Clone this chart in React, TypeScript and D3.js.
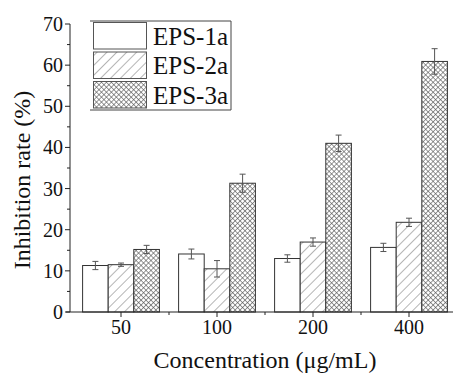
import { useEffect, useRef } from 'react';
import * as d3 from 'd3';

const categories = ['50', '100', '200', '400'];
const seriesNames = ['EPS-1a', 'EPS-2a', 'EPS-3a'];
const eps1a = [11.3, 14.1, 13.0, 15.7];
const eps1aErr = [1.0, 1.2, 0.9, 1.0];
const eps2a = [11.5, 10.5, 17.0, 21.8];
const eps2aErr = [0.4, 2.0, 1.0, 1.0];
const eps3a = [15.2, 31.3, 41.0, 60.9];
const eps3aErr = [1.0, 2.2, 2.0, 3.1];
const yTicks = [0, 10, 20, 30, 40, 50, 60, 70];

const FONT = 'Liberation Serif, DejaVu Serif, serif';

export default function App() {
  const svgRef = useRef<SVGSVGElement>(null);
  const width = 453;
  const height = 376;

  useEffect(() => {
    if (!svgRef.current) return;
    const svg = d3.select(svgRef.current);
    svg.selectAll('*').remove();

    const values = [eps1a, eps2a, eps3a];
    const errors = [eps1aErr, eps2aErr, eps3aErr];

    const axisLeft = 70;
    const axisBottom = 312;

    const y = d3.scaleLinear().domain([0, 70]).range([axisBottom, 24]);
    const x = d3.scaleBand<string>()
      .domain(categories)
      .range([73, 457])
      .paddingInner(0.2)
      .paddingOuter(0.1);
    const xs = d3.scaleBand<string>()
      .domain(seriesNames)
      .range([0, x.bandwidth()]);

    const defs = svg.append('defs');
    const hatch = defs.append('pattern')
      .attr('id', 'hatch-fwd')
      .attr('patternUnits', 'userSpaceOnUse')
      .attr('width', 7)
      .attr('height', 7)
      .attr('patternTransform', 'rotate(45)');
    hatch.append('rect').attr('width', 7).attr('height', 7).attr('fill', '#fff');
    hatch.append('line')
      .attr('x1', 0).attr('y1', 0).attr('x2', 0).attr('y2', 7)
      .attr('stroke', '#777').attr('stroke-width', 1.1);

    const cross = defs.append('pattern')
      .attr('id', 'hatch-cross')
      .attr('patternUnits', 'userSpaceOnUse')
      .attr('width', 3.5)
      .attr('height', 3.5)
      .attr('patternTransform', 'rotate(45)');
    cross.append('rect').attr('width', 3.5).attr('height', 3.5).attr('fill', '#fff');
    cross.append('line')
      .attr('x1', 0).attr('y1', 0).attr('x2', 0).attr('y2', 3.5)
      .attr('stroke', '#555').attr('stroke-width', 1.2);
    cross.append('line')
      .attr('x1', 0).attr('y1', 0).attr('x2', 3.5).attr('y2', 0)
      .attr('stroke', '#555').attr('stroke-width', 1.2);

    const fills = ['#fff', 'url(#hatch-fwd)', 'url(#hatch-cross)'];

    // bars
    seriesNames.forEach((name, si) => {
      const g = svg.append('g');
      g.selectAll('rect')
        .data(categories)
        .enter()
        .append('rect')
        .attr('x', c => (x(c) ?? 0) + (xs(name) ?? 0))
        .attr('y', (_, i) => y(values[si][i]))
        .attr('width', xs.bandwidth())
        .attr('height', (_, i) => axisBottom - y(values[si][i]))
        .attr('fill', fills[si])
        .attr('stroke', '#333')
        .attr('stroke-width', 1);

      // error bars
      categories.forEach((c, i) => {
        const cx = (x(c) ?? 0) + (xs(name) ?? 0) + xs.bandwidth() / 2;
        const top = y(values[si][i] + errors[si][i]);
        const bot = y(values[si][i] - errors[si][i]);
        g.append('line')
          .attr('x1', cx).attr('x2', cx)
          .attr('y1', top).attr('y2', bot)
          .attr('stroke', '#555').attr('stroke-width', 1);
        [top, bot].forEach(v => {
          g.append('line')
            .attr('x1', cx - 3).attr('x2', cx + 3)
            .attr('y1', v).attr('y2', v)
            .attr('stroke', '#555').attr('stroke-width', 1);
        });
      });
    });

    // y axis
    const axisG = svg.append('g').attr('stroke', '#222').attr('stroke-width', 1);
    axisG.append('line')
      .attr('x1', axisLeft).attr('x2', axisLeft)
      .attr('y1', y(70)).attr('y2', axisBottom);
    axisG.selectAll('.ymaj')
      .data(yTicks)
      .enter()
      .append('line')
      .attr('x1', axisLeft - 5).attr('x2', axisLeft)
      .attr('y1', d => y(d)).attr('y2', d => y(d));
    axisG.selectAll('.ymin')
      .data(yTicks.slice(0, -1).map(d => d + 5))
      .enter()
      .append('line')
      .attr('x1', axisLeft - 3).attr('x2', axisLeft)
      .attr('y1', d => y(d)).attr('y2', d => y(d));

    const text = svg.append('g').style('font-family', FONT).attr('fill', '#111');

    text.append('g')
      .selectAll('text')
      .data(yTicks)
      .enter()
      .append('text')
      .attr('x', axisLeft - 7)
      .attr('y', d => y(d))
      .attr('dy', '0.35em')
      .attr('text-anchor', 'end')
      .style('font-size', '20px')
      .text(d => d);

    // x axis
    axisG.append('line')
      .attr('x1', axisLeft - 4).attr('x2', width)
      .attr('y1', axisBottom).attr('y2', axisBottom);
    axisG.selectAll('.xmaj')
      .data(categories)
      .enter()
      .append('line')
      .attr('x1', c => (x(c) ?? 0) + x.bandwidth() / 2)
      .attr('x2', c => (x(c) ?? 0) + x.bandwidth() / 2)
      .attr('y1', axisBottom).attr('y2', axisBottom + 5);
    axisG.selectAll('.xmin')
      .data(categories.slice(1))
      .enter()
      .append('line')
      .attr('x1', c => (x(c) ?? 0) - x.step() * x.paddingInner() / 2)
      .attr('x2', c => (x(c) ?? 0) - x.step() * x.paddingInner() / 2)
      .attr('y1', axisBottom).attr('y2', axisBottom + 3);

    text.append('g')
      .selectAll('text')
      .data(categories)
      .enter()
      .append('text')
      .attr('x', c => (x(c) ?? 0) + x.bandwidth() / 2)
      .attr('y', axisBottom + 22)
      .attr('text-anchor', 'middle')
      .style('font-size', '20px')
      .text(c => c);

    // axis titles
    text.append('text')
      .attr('x', 265)
      .attr('y', 368)
      .attr('text-anchor', 'middle')
      .style('font-size', '24px')
      .text('Concentration (μg/mL)');

    text.append('text')
      .attr('transform', 'translate(30,180) rotate(-90)')
      .attr('text-anchor', 'middle')
      .style('font-size', '24px')
      .text('Inhibition rate (%)');

    // legend
    const legend = svg.append('g');
    const lx = 90, ly = 21, lw = 141, rowH = 29.5;
    legend.append('line')
      .attr('x1', lx).attr('x2', lx + lw).attr('y1', ly).attr('y2', ly)
      .attr('stroke', '#444');
    legend.append('line')
      .attr('x1', lx).attr('x2', lx + lw).attr('y1', ly + 89).attr('y2', ly + 89)
      .attr('stroke', '#444');
    legend.append('line')
      .attr('x1', lx + lw).attr('x2', lx + lw).attr('y1', ly).attr('y2', ly + 89)
      .attr('stroke', '#444');
    seriesNames.forEach((name, i) => {
      legend.append('rect')
        .attr('x', 93.5)
        .attr('y', ly + 1.5 + i * rowH)
        .attr('width', 53)
        .attr('height', 26.5)
        .attr('fill', fills[i])
        .attr('stroke', '#555')
        .attr('stroke-width', 1);
      legend.append('text')
        .attr('x', 153)
        .attr('y', ly + 15 + i * rowH)
        .attr('dy', '0.35em')
        .style('font-family', FONT)
        .style('font-size', '25px')
        .attr('fill', '#111')
        .text(name);
    });
  }, []);

  return (
    <svg
      ref={svgRef}
      width={width}
      height={height}
      style={{ position: 'absolute', left: 0, top: 0, background: '#fff' }}
    />
  );
}
